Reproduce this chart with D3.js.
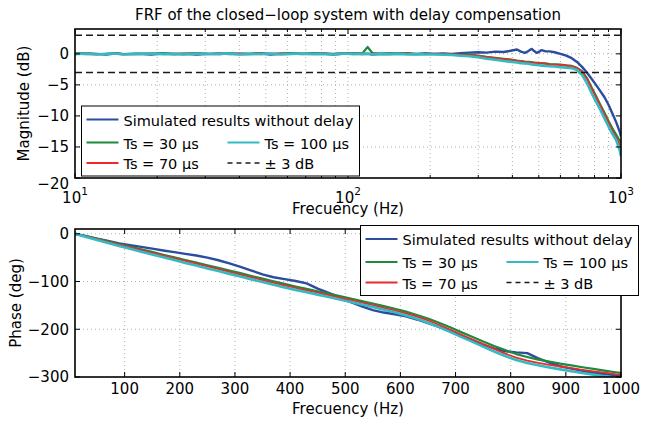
<!DOCTYPE html>
<html>
<head>
<meta charset="utf-8">
<script src="https://cdn.jsdelivr.net/npm/d3@7"></script>
<style>
  body { margin: 0; background: #fff; }
  svg { font-family: "DejaVu Sans", sans-serif; }
</style>
</head>
<body>
<div id="chart"></div>
<script>

// ---- magnitude data (log frequency axis) ----
const magFreq = [10, 11, 12, 13, 14, 15, 17, 19, 21, 23, 25, 28, 31, 34, 37, 40, 44, 48, 52, 57,
    62, 68, 74, 81, 88, 96, 105, 113, 118, 123, 132, 142, 153, 165, 178, 192, 207, 223, 240, 258,
    278, 299, 322, 346, 372, 390, 416, 430, 445, 458, 471, 481, 491, 502, 512, 530, 548, 571, 600, 630,
    660, 690, 720, 750, 780, 810, 840, 870, 900, 930, 960, 990, 1000];

const magBlue = [0.05, -0.05, 0.0, -0.1, 0.05, -0.05, 0.0, -0.1, 0.05, -0.05, 0.0, -0.1, 0.0, 0.05, -0.05, 0.0, -0.05, 0.05, -0.1, 0.0,
    0.05, -0.05, 0.0, 0.05, -0.1, 0.0, 0.05, -0.05, 0.0, -0.1, 0.0, -0.05, 0.05, 0.0, -0.05, 0.05, 0.0, 0.05, 0.0, 0.1,
    0.2, 0.25, 0.2, 0.35, 0.3, 0.45, 0.7, 0.35, 0.15, 0.45, 0.8, 0.45, 0.15, 0.35, 0.6, 0.4, 0.4, 0.25, 0.0, -0.3,
    -0.7, -1.3, -2.1, -3.0, -4.0, -5.0, -6.0, -7.0, -8.2, -9.6, -11.0, -12.6, -13.3];

const magGreen = [0.05, 0.1, -0.05, 0.0, 0.1, -0.05, 0.05, 0.0, 0.1, -0.05, 0.05, 0.1, 0.0, -0.05, 0.1, 0.0, 0.05, 0.1, 0.0, 0.05,
    0.1, 0.0, 0.1, 0.05, 0.0, 0.1, 0.05, 0.1, 1.1, 0.1, 0.05, 0.1, 0.05, 0.1, 0.0, 0.05, 0.0, -0.05, -0.1, -0.15,
    -0.1, -0.3, -0.5, -0.65, -0.8, -0.9, -1.1, -1.15, -1.25, -1.3, -1.35, -1.4, -1.45, -1.5, -1.5, -1.55, -1.65, -1.7, -1.75, -1.85,
    -1.95, -2.25, -2.8, -3.9, -5.4, -6.8, -8.2, -9.5, -10.8, -12.0, -13.0, -14.0, -14.3];

const magRed = [0.0, 0.05, 0.0, -0.05, 0.05, 0.0, 0.0, 0.05, 0.0, 0.05, 0.0, 0.05, 0.0, 0.05, 0.0, 0.05, 0.0, 0.05, 0.0, 0.05,
    0.0, 0.05, 0.0, 0.05, 0.0, 0.05, 0.0, 0.05, 0.0, 0.05, 0.0, 0.05, 0.0, 0.05, 0.0, 0.0, -0.02, -0.05, -0.1, -0.15,
    -0.2, -0.35, -0.55, -0.7, -0.85, -0.95, -1.15, -1.2, -1.3, -1.35, -1.4, -1.45, -1.5, -1.55, -1.55, -1.6, -1.7, -1.75, -1.8, -1.9,
    -2.0, -2.3, -2.9, -4.0, -5.6, -7.0, -8.4, -9.8, -11.1, -12.4, -13.5, -14.6, -15.0];

const magCyan = [-0.05, 0.05, -0.1, 0.0, 0.05, -0.1, 0.0, 0.05, -0.05, 0.0, -0.1, 0.05, -0.05, 0.0, 0.05, -0.1, 0.0, -0.05, 0.05, -0.1,
    0.0, 0.05, -0.05, 0.0, -0.1, 0.05, -0.05, 0.0, 0.05, -0.1, 0.0, -0.05, 0.0, -0.1, -0.05, -0.1, -0.1, -0.15, -0.2, -0.3,
    -0.4, -0.55, -0.8, -0.95, -1.15, -1.25, -1.4, -1.5, -1.55, -1.6, -1.7, -1.75, -1.8, -1.85, -1.9, -1.95, -2.0, -2.05, -2.15, -2.25,
    -2.3, -2.6, -3.4, -4.7, -6.3, -7.7, -9.0, -10.4, -11.7, -12.9, -13.9, -15.6, -16.5];

// ---- phase data (linear frequency axis) ----
const phaseFreq = [10, 30, 50, 70, 90, 110, 130, 150, 170, 190, 210, 230, 250, 270, 290, 310, 330, 350, 370, 390,
    410, 430, 450, 470, 490, 510, 530, 550, 570, 590, 610, 630, 650, 670, 690, 710, 730, 750, 770, 790,
    810, 830, 850, 870, 890, 910, 930, 950, 970, 990, 1000];

const phaseBlue = [0, -5, -10, -15, -20, -24, -27.5, -31, -35, -38.5, -42, -45.5, -50, -55.5, -62, -69.5, -77, -85, -91, -95,
    -99, -104, -115, -124, -133, -143, -152, -160, -165, -168.5, -173, -179.5, -187, -195, -204.5, -214, -223, -232, -240, -246,
    -248.5, -250, -261, -270, -277.5, -282.5, -287, -291, -294, -296.5, -297];

const phaseGreen = [0, -5, -10.5, -16, -21.5, -27, -32.5, -38, -44, -49.5, -55, -60.5, -66, -71.5, -77, -82.5, -88.5, -94, -99.5, -105,
    -110.5, -115.5, -120.5, -125.5, -130.5, -135.5, -141, -146, -151.5, -157, -163, -170, -177.5, -186.5, -196, -206, -215.5, -225.5, -235, -243.5,
    -252, -258, -263.5, -267.5, -272, -275.5, -279.5, -283, -286.5, -290, -291.5];

const phaseRed = [0, -5.7, -11.4, -17.1, -22.8, -28.5, -34.2, -39.9, -45.6, -51.3, -57, -62.7, -68.4, -74.1, -79.8, -85.5, -91.2, -96.9, -102.6, -108.3,
    -113.5, -118.5, -123.5, -128.5, -133.5, -138.7, -144, -149.5, -155, -160.5, -166.5, -173.5, -181.5, -190.5, -200.5, -211, -221, -231, -241, -251,
    -259.5, -265.5, -270.5, -274.5, -278, -281.5, -285, -288, -291, -294, -295];

const phaseCyan = [0, -7, -13, -19.5, -25.5, -31.5, -37.5, -43.5, -49, -55, -61, -66.5, -72.5, -78, -84, -89.5, -95.5, -101, -107, -112.5,
    -117.5, -122.5, -127.5, -132.5, -137.5, -143, -148, -153.5, -159, -164.5, -171, -178, -186.5, -195.5, -205.5, -216, -226, -236.5, -246.5, -256,
    -264.5, -270.5, -275.5, -280, -284, -288, -291.5, -295, -298.5, -301, -302];

// ---- ticks, limits and names ----
const magXTicks = [10, 100, 1000];
const magYTicks = [0, -5, -10, -15, -20];
const phaseXTicks = [100, 200, 300, 400, 500, 600, 700, 800, 900, 1000];
const phaseYTicks = [0, -100, -200, -300];
const bandLimits = [3, -3];

const seriesNames = ['Simulated results without delay', 'Ts = 30 µs', 'Ts = 70 µs', 'Ts = 100 µs'];
const bandName = '± 3 dB';
const colors = ['#2b4c9f', '#1e8a3c', '#ec2a2a', '#33bac3'];

const titleText = 'FRF of the closed\u2212loop system with delay compensation';
const xLabel = 'Frecuency (Hz)';
const magLabel = 'Magnitude (dB)';
const phaseLabel = 'Phase (deg)';

// ---- layout ----
const width = 646, height = 422;
const left = 75, right = 621;
const magBox = { top: 29, bottom: 178 };
const phBox = { top: 229, bottom: 377 };
const fontSize = 15;
const legendFont = 14.5;
const gridColor = '#b0b0b0';

const svg = d3.select('#chart').append('svg')
    .attr('width', width)
    .attr('height', height)
    .style('background', '#fff');

const xMag = d3.scaleLog().domain([10, 1000]).range([left, right]);
const yMag = d3.scaleLinear().domain([-20, 4]).range([magBox.bottom, magBox.top]);
const xPh = d3.scaleLinear().domain([10, 1000]).range([left, right]);
const yPh = d3.scaleLinear().domain([-300, 10]).range([phBox.bottom, phBox.top]);

const fmt = d => d3.format('d')(d);   // d3 v7 uses the real minus sign

// clip paths
const defs = svg.append('defs');
[['clipMag', magBox], ['clipPh', phBox]].forEach(function(c) {
    defs.append('clipPath').attr('id', c[0])
        .append('rect')
        .attr('x', left).attr('y', c[1].top)
        .attr('width', right - left).attr('height', c[1].bottom - c[1].top);
});

function grid(x, y, box, xs, ys) {
    let g = svg.append('g');
    g.selectAll('.v').data(xs).join('line')
        .attr('x1', d => x(d)).attr('x2', d => x(d))
        .attr('y1', box.top).attr('y2', box.bottom);
    g.selectAll('.h').data(ys).join('line')
        .attr('x1', left).attr('x2', right)
        .attr('y1', d => y(d)).attr('y2', d => y(d));
    g.selectAll('line')
        .attr('stroke', gridColor)
        .attr('stroke-width', 1)
        .attr('stroke-dasharray', '1,3');
}

function ticks(x, y, box, xMajor, xMinor, yMajor) {
    let g = svg.append('g').attr('stroke', '#000').attr('stroke-width', 1);
    let tk = function(data, len) {
        data.forEach(function(d) {
            g.append('line').attr('x1', x(d)).attr('x2', x(d)).attr('y1', box.bottom).attr('y2', box.bottom - len);
            g.append('line').attr('x1', x(d)).attr('x2', x(d)).attr('y1', box.top).attr('y2', box.top + len);
        });
    };
    tk(xMajor, 5);
    tk(xMinor, 3);
    yMajor.forEach(function(d) {
        g.append('line').attr('x1', left).attr('x2', left + 5).attr('y1', y(d)).attr('y2', y(d));
        g.append('line').attr('x1', right).attr('x2', right - 5).attr('y1', y(d)).attr('y2', y(d));
    });
    svg.append('rect')
        .attr('x', left).attr('y', box.top)
        .attr('width', right - left).attr('height', box.bottom - box.top)
        .attr('fill', 'none').attr('stroke', '#000').attr('stroke-width', 1.6);
}

function curve(g, x, y, freqs, values, color, w) {
    let line = d3.line()
        .x((d, i) => x(freqs[i]))
        .y(d => y(d));
    g.append('path')
        .datum(values)
        .attr('d', line)
        .attr('fill', 'none')
        .attr('stroke', color)
        .attr('stroke-width', w)
        .attr('stroke-linejoin', 'round');
}

const lineWidths = [2.4, 2.2, 1.8, 2.6];

// ================= magnitude =================
let magMinor = xMag.ticks().filter(d => magXTicks.indexOf(d) < 0);
grid(xMag, yMag, magBox, magMinor.concat([100]), magYTicks.slice(0, 4));

let gm = svg.append('g').attr('clip-path', 'url(#clipMag)');
[magBlue, magGreen, magRed, magCyan].forEach(function(vals, i) {
    curve(gm, xMag, yMag, magFreq, vals, colors[i], lineWidths[i]);
});
gm.selectAll('.band').data(bandLimits).join('line')
    .attr('x1', left).attr('x2', right)
    .attr('y1', d => yMag(d)).attr('y2', d => yMag(d))
    .attr('stroke', '#1a1a1a').attr('stroke-width', 1.5)
    .attr('stroke-dasharray', '7,4');

ticks(xMag, yMag, magBox, magXTicks, magMinor, magYTicks);

// x tick labels with exponent
svg.append('g').selectAll('text').data(magXTicks).join('text')
    .attr('x', d => xMag(d))
    .attr('y', 203)
    .attr('text-anchor', 'middle')
    .attr('font-size', fontSize)
    .each(function(d) {
        let t = d3.select(this);
        t.append('tspan').text('10');
        t.append('tspan').attr('dy', -8).attr('font-size', 10.5).text(Math.round(Math.log10(d)));
    });

svg.append('g').selectAll('text').data(magYTicks).join('text')
    .attr('x', 69)
    .attr('y', (d, i) => yMag(d) + (i === magYTicks.length - 1 ? 6 : 0))
    .attr('dy', '0.36em')
    .attr('text-anchor', 'end')
    .attr('font-size', fontSize)
    .text(fmt);

// ================= phase =================
grid(xPh, yPh, phBox, phaseXTicks.slice(0, 9), phaseYTicks.slice(0, 3));

let gp = svg.append('g').attr('clip-path', 'url(#clipPh)');
[phaseBlue, phaseGreen, phaseRed, phaseCyan].forEach(function(vals, i) {
    curve(gp, xPh, yPh, phaseFreq, vals, colors[i], lineWidths[i]);
});

ticks(xPh, yPh, phBox, phaseXTicks, [], phaseYTicks);

svg.append('g').selectAll('text').data(phaseXTicks).join('text')
    .attr('x', d => xPh(d))
    .attr('y', 394)
    .attr('text-anchor', 'middle')
    .attr('font-size', fontSize)
    .text(fmt);

svg.append('g').selectAll('text').data(phaseYTicks).join('text')
    .attr('x', 69)
    .attr('y', d => yPh(d))
    .attr('dy', '0.36em')
    .attr('text-anchor', 'end')
    .attr('font-size', fontSize)
    .text(fmt);

// ================= titles / labels =================
svg.append('text').attr('x', (left + right) / 2).attr('y', 20)
    .attr('text-anchor', 'middle').attr('font-size', fontSize).text(titleText);

svg.append('text').attr('x', (left + right) / 2).attr('y', 214)
    .attr('text-anchor', 'middle').attr('font-size', fontSize).text(xLabel);
svg.append('text').attr('x', (left + right) / 2).attr('y', 414)
    .attr('text-anchor', 'middle').attr('font-size', fontSize).text(xLabel);

svg.append('text')
    .attr('transform', 'translate(29,' + (magBox.top + magBox.bottom) / 2 + ') rotate(-90)')
    .attr('text-anchor', 'middle').attr('font-size', fontSize).text(magLabel);
svg.append('text')
    .attr('transform', 'translate(21,' + (phBox.top + phBox.bottom) / 2 + ') rotate(-90)')
    .attr('text-anchor', 'middle').attr('font-size', fontSize).text(phaseLabel);

// ================= legends =================
function legend(lx, ly) {
    let g = svg.append('g').attr('transform', 'translate(' + lx + ',' + ly + ')');
    g.append('rect').attr('width', 278).attr('height', 70)
        .attr('fill', '#fff').attr('stroke', '#000').attr('stroke-width', 1);

    let items = [
        { name: seriesNames[0], color: colors[0], col: 0, row: 0 },
        { name: seriesNames[1], color: colors[1], col: 0, row: 1 },
        { name: seriesNames[3], color: colors[3], col: 1, row: 1 },
        { name: seriesNames[2], color: colors[2], col: 0, row: 2 },
        { name: bandName, color: '#1a1a1a', col: 1, row: 2, dash: true }
    ];
    let rowY = [13.5, 36.5, 57];
    items.forEach(function(it) {
        let x0 = 5 + it.col * 141, y0 = rowY[it.row];
        g.append('line')
            .attr('x1', x0).attr('x2', x0 + 32)
            .attr('y1', y0).attr('y2', y0)
            .attr('stroke', it.color)
            .attr('stroke-width', it.dash ? 1.5 : 2)
            .attr('stroke-dasharray', it.dash ? '5,4' : null);
        g.append('text')
            .attr('x', x0 + 37).attr('y', y0 + 1)
            .attr('dy', '0.36em')
            .attr('font-size', legendFont)
            .text(it.name);
    });
}

legend(81.5, 106);
legend(360.5, 225.5);

</script>
</body>
</html>
